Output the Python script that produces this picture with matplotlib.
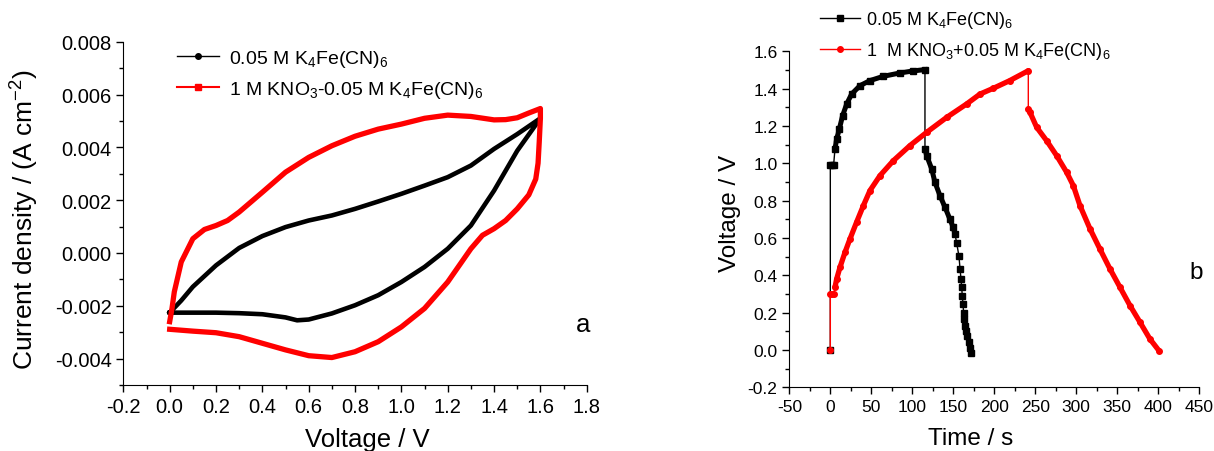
import matplotlib
matplotlib.use("Agg")
import matplotlib.pyplot as plt
from matplotlib.lines import Line2D
from matplotlib.ticker import MultipleLocator, FormatStrFormatter

plt.rcParams["font.family"] = ["Liberation Sans", "DejaVu Sans"]
plt.rcParams["mathtext.fontset"] = "custom"
plt.rcParams["mathtext.rm"] = "Liberation Sans"
plt.rcParams["mathtext.it"] = "Liberation Sans:italic"
plt.rcParams["axes.unicode_minus"] = False

# --- (a) cyclic voltammetry, closed loops (forward then reverse scan) ---
cv_black_v = [0, 0.05, 0.1, 0.2, 0.3, 0.4, 0.5, 0.6, 0.7, 0.8, 0.9, 1.0, 1.1, 1.2, 1.3, 1.4, 1.5, 1.6,
              1.5, 1.4, 1.3, 1.2, 1.1, 1.0, 0.9, 0.8, 0.7, 0.6, 0.55, 0.5, 0.4, 0.3, 0.2, 0.1, 0]
cv_black_j = [-0.00226, -0.0018, -0.00128, -0.00047, 0.00019, 0.00064, 0.00098, 0.00123, 0.00142,
              0.00167, 0.00195, 0.00224, 0.00255, 0.00287, 0.00331, 0.00394, 0.0045, 0.0051,
              0.00387, 0.00236, 0.00104, 0.00016, -0.00053, -0.0011, -0.0016, -0.00198, -0.00229,
              -0.00252, -0.00255, -0.00244, -0.00232, -0.00228, -0.00226, -0.00226, -0.00226]

cv_red_v = [0, 0.01, 0.02, 0.05, 0.1, 0.15, 0.2, 0.25, 0.3, 0.4, 0.5, 0.6, 0.7, 0.8, 0.9, 1.0, 1.1,
            1.2, 1.3, 1.4, 1.45, 1.5, 1.55, 1.6,
            1.6, 1.595, 1.59, 1.58, 1.55, 1.5, 1.45, 1.4, 1.35, 1.3, 1.25, 1.2, 1.1, 1.0, 0.9, 0.8,
            0.7, 0.6, 0.5, 0.4, 0.3, 0.2, 0.1, 0]
cv_red_j = [-0.0026, -0.0021, -0.00147, -0.00034, 0.00054, 0.00089, 0.00104, 0.00123, 0.00155,
            0.0023, 0.00306, 0.00362, 0.00406, 0.00442, 0.00469, 0.00488, 0.0051, 0.00522,
            0.00517, 0.00504, 0.00505, 0.00512, 0.0053, 0.00547,
            0.0051, 0.0042, 0.0034, 0.0028, 0.0022, 0.00167, 0.00123, 0.00092, 0.00067, 0.00016,
            -0.00047, -0.0011, -0.0021, -0.0028, -0.00336, -0.00374, -0.00396, -0.00389,
            -0.00367, -0.00342, -0.00317, -0.00302, -0.00296, -0.00289]

# --- (b) galvanostatic charge / discharge ---
gcd_black_t = [0, 0, 2, 4, 5.7, 7.7, 11, 15, 20, 26, 36.2, 48.4, 64.7, 85, 101.3, 115.5,
               115.5, 117.6, 123.7, 127.7, 133.8, 140, 146, 150, 152.2, 154.2, 157, 158.3, 159.5,
               160.3, 161.1, 161.9, 162.7, 163.5, 164.8, 166, 167.2, 168.8, 170.1, 171.3]
gcd_black_v = [0, 0.99, 0.99, 0.99, 1.077, 1.13, 1.184, 1.255, 1.318, 1.371, 1.416, 1.443, 1.466,
               1.484, 1.495, 1.502,
               1.077, 1.041, 0.97, 0.898, 0.827, 0.764, 0.70, 0.657, 0.62, 0.573, 0.502, 0.434,
               0.38, 0.336, 0.287, 0.246, 0.20, 0.166, 0.13, 0.104, 0.077, 0.041, 0.011, -0.016]

gcd_red_t = [0, 0, 2, 4, 5.7, 7.7, 11.8, 17.9, 24, 32, 40.3, 48.4, 60.6, 76.9, 97.2, 117.6, 142,
             166.4, 182.7, 199, 219, 241.6,
             241.6, 243.7, 251.8, 264, 276.2, 288.4, 296.6, 304.7, 317, 329, 341.3, 353.5, 365.7,
             378, 390, 401.1]
gcd_red_v = [0, 0.30, 0.30, 0.30, 0.336, 0.38, 0.443, 0.523, 0.595, 0.684, 0.773, 0.854, 0.934,
             1.014, 1.095, 1.166, 1.246, 1.318, 1.371, 1.402, 1.443, 1.496,
             1.291, 1.273, 1.193, 1.121, 1.041, 0.952, 0.88, 0.773, 0.648, 0.541, 0.434, 0.336,
             0.238, 0.148, 0.059, -0.004]

lab_k = "0.05 M K$_\\mathregular{4}$Fe(CN)$_\\mathregular{6}$"
lab_a = "1 M KNO$_\\mathregular{3}$-0.05 M K$_\\mathregular{4}$Fe(CN)$_\\mathregular{6}$"
lab_b = "1  M KNO$_\\mathregular{3}$+0.05 M K$_\\mathregular{4}$Fe(CN)$_\\mathregular{6}$"

fig = plt.figure(figsize=(12.14, 4.52), dpi=100)
ax1 = fig.add_axes([0.1016, 0.146, 0.3817, 0.7595])
ax2 = fig.add_axes([0.6502, 0.1409, 0.3375, 0.7434])

for ax in (ax1, ax2):
    ax.spines["top"].set_visible(False)
    ax.spines["right"].set_visible(False)
    ax.tick_params(which="both", direction="out", color="black")
    ax.tick_params(which="major", length=5, width=1)
    ax.tick_params(which="minor", length=3, width=1)

# panel a
ax1.plot(cv_black_v, cv_black_j, color="black", lw=3.3, solid_joinstyle="round", zorder=2)
ax1.plot(cv_red_v, cv_red_j, color="red", lw=3.8, solid_joinstyle="round", zorder=3)
ax1.set_xlim(-0.2, 1.8)
ax1.set_ylim(-0.005, 0.008)
ax1.xaxis.set_major_locator(MultipleLocator(0.2))
ax1.xaxis.set_minor_locator(MultipleLocator(0.1))
ax1.yaxis.set_major_locator(MultipleLocator(0.002))
ax1.yaxis.set_minor_locator(MultipleLocator(0.001))
ax1.xaxis.set_major_formatter(FormatStrFormatter("%.1f"))
ax1.yaxis.set_major_formatter(FormatStrFormatter("%.3f"))
ax1.tick_params(labelsize=14.5)
ax1.set_xlabel("Voltage / V", fontsize=18.5)
ax1.set_ylabel("Current density / (A cm$^\\mathregular{-2}$)", fontsize=19)
ax1.xaxis.set_label_coords(0.527, -0.122)
ax1.yaxis.set_label_coords(-0.178, 0.485)
ax1.text(0.992, 0.178, "a", transform=ax1.transAxes, fontsize=18.5, ha="center", va="center")
h1 = [Line2D([], [], color="black", lw=1, marker="o", ms=4),
      Line2D([], [], color="red", lw=1.5, marker="s", ms=4)]
ax1.legend(h1, [lab_k, lab_a], loc="upper left", bbox_to_anchor=(0.115, 0.982),
           frameon=False, fontsize=14, handlelength=2.2, handletextpad=0.5,
           borderpad=0, borderaxespad=0, labelspacing=0.5)

# panel b
ax2.plot(gcd_black_t, gcd_black_v, color="black", lw=1, marker="s", ms=4, zorder=2)
ax2.plot(gcd_black_t[4:16], gcd_black_v[4:16], color="black", lw=3.6, zorder=2)
ax2.plot(gcd_black_t[16:25], gcd_black_v[16:25], color="black", lw=3.6, zorder=2)
ax2.plot(gcd_red_t, gcd_red_v, color="red", lw=1, marker="o", ms=4, zorder=3)
ax2.plot(gcd_red_t[4:22], gcd_red_v[4:22], color="red", lw=3.8, solid_capstyle="round", zorder=3)
ax2.plot(gcd_red_t[22:], gcd_red_v[22:], color="red", lw=3.8, solid_capstyle="round", zorder=3)
ax2.set_xlim(-50, 450)
ax2.set_ylim(-0.2, 1.6)
ax2.xaxis.set_major_locator(MultipleLocator(50))
ax2.xaxis.set_minor_locator(MultipleLocator(25))
ax2.yaxis.set_major_locator(MultipleLocator(0.2))
ax2.yaxis.set_minor_locator(MultipleLocator(0.1))
ax2.yaxis.set_major_formatter(FormatStrFormatter("%.1f"))
ax2.tick_params(labelsize=12.5)
ax2.set_xlabel("Time / s", fontsize=17.5)
ax2.set_ylabel("Voltage / V", fontsize=17.5)
ax2.xaxis.set_label_coords(0.4435, -0.119)
ax2.yaxis.set_label_coords(-0.1186, 0.52)
ax2.text(0.994, 0.342, "b", transform=ax2.transAxes, fontsize=17.5, ha="center", va="center")
h2 = [Line2D([], [], color="black", lw=1, marker="s", ms=4),
      Line2D([], [], color="red", lw=1, marker="o", ms=4)]
ax2.legend(h2, [lab_k, lab_b], loc="upper left", bbox_to_anchor=(0.0755, 1.126),
           frameon=False, fontsize=13, handlelength=2.2, handletextpad=0.35,
           borderpad=0, borderaxespad=0, labelspacing=0.55)

fig.savefig("out.png", dpi=100)
